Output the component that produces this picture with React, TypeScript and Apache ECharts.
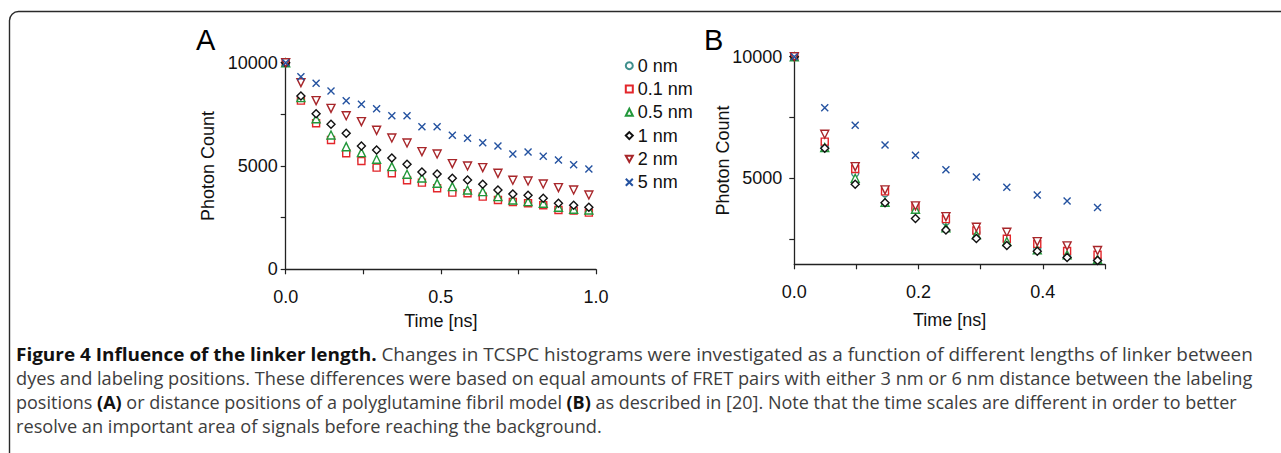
import React, { useEffect, useRef } from "react";
import * as echarts from "echarts";

const seriesNames = ["0 nm", "0.1 nm", "0.5 nm", "1 nm", "2 nm", "5 nm"];

const timeA = [0, 0.049, 0.098, 0.146, 0.195, 0.244, 0.293, 0.342, 0.391, 0.439, 0.488, 0.537, 0.586, 0.635, 0.684, 0.732, 0.781, 0.83, 0.879, 0.928, 0.977];
const a0nm = [10000, 8200, 7100, 6290, 5650, 5280, 4950, 4680, 4340, 4230, 3950, 3740, 3710, 3550, 3390, 3290, 3225, 3130, 2910, 2870, 2780];
const a01nm = [10000, 8162, 7066, 6258, 5614, 5243, 4919, 4646, 4308, 4194, 3920, 3711, 3678, 3517, 3356, 3259, 3195, 3098, 2871, 2840, 2742];
const a05nm = [10000, 8310, 7290, 6500, 5935, 5645, 5324, 4968, 4598, 4420, 4162, 4000, 3839, 3759, 3517, 3356, 3275, 3195, 3001, 2904, 2871];
const a1nm = [10000, 8388, 7530, 7018, 6583, 5969, 5775, 5388, 5082, 4711, 4614, 4404, 4323, 4113, 3839, 3646, 3582, 3436, 3195, 3098, 3001];
const a2nm = [10000, 9033, 8162, 7790, 7434, 7146, 6727, 6356, 6113, 5694, 5582, 5113, 5000, 4919, 4646, 4308, 4275, 4130, 3952, 3839, 3597];
const a5nm = [10000, 9324, 9001, 8630, 8162, 7986, 7775, 7434, 7434, 6903, 6903, 6486, 6340, 6130, 5969, 5582, 5678, 5469, 5291, 5065, 4855];

const timeB = [0, 0.049, 0.098, 0.146, 0.195, 0.244, 0.293, 0.342, 0.391, 0.439, 0.488];
const b0nm = [10000, 6320, 5205, 4383, 3760, 3220, 2770, 2420, 2110, 1780, 1670];
const b01nm = [10000, 6505, 5382, 4460, 3800, 3320, 2850, 2510, 2300, 2010, 1850];
const b05nm = [10000, 6258, 5000, 4014, 3726, 2957, 2670, 2400, 2060, 1850, 1670];
const b1nm = [10000, 6230, 4753, 3990, 3340, 2875, 2518, 2230, 2000, 1737, 1613];
const b2nm = [10000, 6808, 5480, 4520, 3862, 3422, 2986, 2780, 2394, 2218, 2025];
const b5nm = [10000, 7902, 7178, 6369, 5945, 5354, 5053, 4630, 4314, 4067, 3792];

const yTicksA = [0, 2500, 5000, 7500, 10000];
const yLabelsA = [0, 5000, 10000];
const yTicksB = [2500, 5000, 7500, 10000];
const yLabelsB = [5000, 10000];
const xLabelsA = [0, 0.5, 1];
const xLabelsB = [0, 0.2, 0.4];

const captionLines = [
  "{b|Figure 4 Influence of the linker length.} Changes in TCSPC histograms were investigated as a function of different lengths of linker between",
  "dyes and labeling positions. These differences were based on equal amounts of FRET pairs with either 3 nm or 6 nm distance between the labeling",
  "positions {b|(A)} or distance positions of a polyglutamine fibril model {b|(B)} as described in [20]. Note that the time scales are different in order to better",
  "resolve an important area of signals before reaching the background.",
];

const colors = ["#3f8f8c", "#e3262b", "#22973a", "#111111", "#a8262a", "#2452a0"];
const symbols = [
  "circle",
  "rect",
  "triangle",
  "diamond",
  "path://M0,0L10,0L5,9Z",
  "path://M0,0L10,10M0,10L10,0",
];
const sizes = [7, 7, 8, 8, 8, 7];

const FONT = "Liberation Sans";
const CAP_FONT = "Open Sans";

function zip(t: number[], v: number[]) {
  return t.map((x, i) => [x, v[i]]);
}

function measureLine(ctx: CanvasRenderingContext2D, line: string, size: number) {
  const parts = line.split(/(\{b\|[^}]*\})/);
  let w = 0;
  for (const p of parts) {
    if (!p) continue;
    const m = p.match(/^\{b\|([^}]*)\}$/);
    if (m) {
      ctx.font = `bold ${size}px "${CAP_FONT}"`;
      w += ctx.measureText(m[1]).width;
    } else {
      ctx.font = `${size}px "${CAP_FONT}"`;
      w += ctx.measureText(p).width;
    }
  }
  return w;
}

export default function App() {
  const ref = useRef<HTMLDivElement>(null);
  useEffect(() => {
    if (!ref.current) return;
    const chart = echarts.init(ref.current, undefined, { renderer: "svg" });
    const dataA = [a0nm, a01nm, a05nm, a1nm, a2nm, a5nm];
    const dataB = [b0nm, b01nm, b05nm, b1nm, b2nm, b5nm];
    const mk = (idx: number, xi: number, t: number[], vals: number[]) => ({
      name: seriesNames[idx],
      type: "scatter",
      xAxisIndex: xi,
      yAxisIndex: xi,
      symbol: symbols[idx],
      symbolSize: sizes[idx],
      data: zip(t, vals),
      itemStyle: {
        color: idx === 5 ? "rgba(0,0,0,0)" : "#ffffff",
        borderColor: colors[idx],
        borderWidth: 1.4,
        opacity: 1,
      },
      emphasis: { disabled: true },
    });
    const series: any[] = [];
    dataA.forEach((v, i) => series.push(mk(i, 0, timeA, v)));
    dataB.forEach((v, i) => series.push(mk(i, 1, timeB, v)));

    // caption: font size from the longest line, then a slight per-line horizontal fit
    const targetWidths = [1236, 1237, 1220, 0];
    let capSize = 18;
    const scales = [1, 1, 1, 1];
    const canvas = document.createElement("canvas");
    const ctx = canvas.getContext("2d");
    if (ctx) {
      const w = measureLine(ctx, captionLines[1], 20);
      if (w > 0) capSize = (20 * 1237) / w;
      captionLines.forEach((line, i) => {
        const lw = measureLine(ctx, line, capSize);
        if (targetWidths[i] > 0 && lw > 0) scales[i] = targetWidths[i] / lw;
      });
    }

    const axisLine = { lineStyle: { color: "#222", width: 1.3 } };
    const axisLabelStyle = { color: "#111", fontSize: 18, fontFamily: FONT };
    const nameStyle = { color: "#111", fontSize: 18, fontFamily: FONT };
    const numFmt = (v: number) => String(v);

    const captionCenters = [354, 378, 402, 426];
    const captionGraphics = captionLines.map((line, i) => ({
      type: "text",
      x: 16,
      y: captionCenters[i],
      scaleX: scales[i],
      style: {
        text: line,
        fontFamily: CAP_FONT,
        fontSize: capSize,
        fill: "#3d3d3d",
        verticalAlign: "middle",
        align: "left",
        rich: {
          b: { fontFamily: CAP_FONT, fontSize: capSize, fontWeight: "bold", fill: "#111", color: "#111" },
        },
      },
    }));

    chart.setOption({
      animation: false,
      grid: [
        { left: 285.7, top: 62.7, width: 310.3, height: 206.6 },
        { left: 794.3, top: 56.7, width: 310.7, height: 207.6 },
      ],
      xAxis: [
        {
          type: "value",
          gridIndex: 0,
          min: 0,
          max: 1,
          interval: 0.25,
          axisLine,
          axisTick: { length: 5, lineStyle: { color: "#222", width: 1.2 } },
          axisLabel: {
            ...axisLabelStyle,
            margin: 19,
            customValues: xLabelsA,
            formatter: (v: number) => v.toFixed(1),
          },
          splitLine: { show: false },
          name: "Time [ns]",
          nameLocation: "middle",
          nameGap: 43,
          nameMoveOverlap: false,
          nameTextStyle: nameStyle,
        },
        {
          type: "value",
          gridIndex: 1,
          min: 0,
          max: 0.5,
          interval: 0.1,
          axisLine,
          axisTick: { length: 5, lineStyle: { color: "#222", width: 1.2 } },
          axisLabel: {
            ...axisLabelStyle,
            margin: 19,
            customValues: xLabelsB,
            formatter: (v: number) => v.toFixed(1),
          },
          splitLine: { show: false },
          name: "Time [ns]",
          nameLocation: "middle",
          nameGap: 47,
          nameMoveOverlap: false,
          nameTextStyle: nameStyle,
        },
      ],
      yAxis: [
        {
          type: "value",
          gridIndex: 0,
          min: 0,
          max: 10000,
          axisLine: { show: true, ...axisLine },
          axisTick: { show: true, length: 5, customValues: yTicksA, lineStyle: { color: "#222", width: 1.2 } },
          axisLabel: { ...axisLabelStyle, margin: 8, customValues: yLabelsA, formatter: numFmt },
          splitLine: { show: false },
          name: "Photon Count",
          nameLocation: "middle",
          nameGap: 68.5,
          nameMoveOverlap: false,
          nameTextStyle: nameStyle,
        },
        {
          type: "value",
          gridIndex: 1,
          min: 1460,
          max: 10000,
          axisLine: { show: true, ...axisLine },
          axisTick: { show: true, length: 5, customValues: yTicksB, lineStyle: { color: "#222", width: 1.2 } },
          axisLabel: { ...axisLabelStyle, margin: 12, customValues: yLabelsB, formatter: numFmt },
          splitLine: { show: false },
          name: "Photon Count",
          nameLocation: "middle",
          nameGap: 62,
          nameMoveOverlap: false,
          nameTextStyle: nameStyle,
        },
      ],
      legend: {
        orient: "vertical",
        left: 624.8,
        top: 56.7,
        padding: 0,
        itemWidth: 7,
        itemHeight: 7,
        itemGap: 5.3,
        data: seriesNames,
        textStyle: { color: "#111", fontSize: 18, fontFamily: FONT, lineHeight: 18 },
        selectedMode: false,
      },
      graphic: [
        {
          type: "rect",
          shape: { x: 9.5, y: 11.5, width: 1320, height: 500, r: 9 },
          style: { fill: "none", stroke: "#2a2a2a", lineWidth: 1.4 },
          silent: true,
        },
        {
          type: "text",
          left: 196,
          top: 25,
          style: { text: "A", fontSize: 29, fontFamily: FONT, fill: "#000" },
        },
        {
          type: "text",
          left: 704,
          top: 25,
          style: { text: "B", fontSize: 29, fontFamily: FONT, fill: "#000" },
        },
        ...captionGraphics,
      ],
      series,
    });
    return () => chart.dispose();
  }, []);
  return (
    <div
      ref={ref}
      style={{ position: "absolute", left: 0, top: 0, width: 1281, height: 453, background: "#fff" }}
    />
  );
}
